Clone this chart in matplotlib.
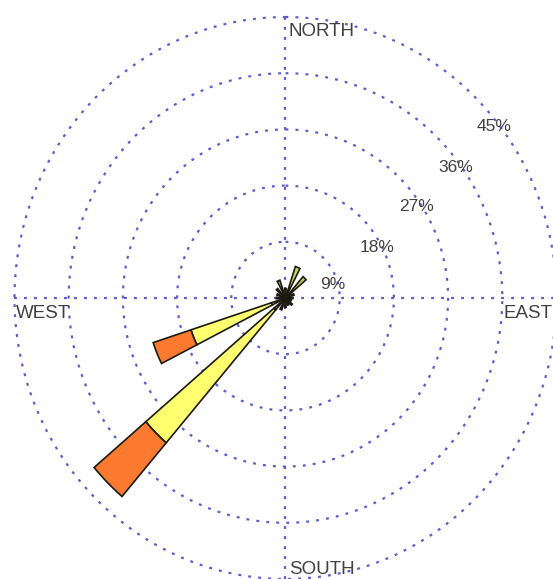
import numpy as np
import matplotlib.pyplot as plt

# Wind rose: 16 compass sectors, frequency (%) per speed class
directions = ['N', 'NNE', 'NE', 'ENE', 'E', 'ESE', 'SE', 'SSE',
              'S', 'SSW', 'SW', 'WSW', 'W', 'WNW', 'NW', 'NNW']
class_low = [1.5, 5.3, 4.5, 1.5, 1.2, 1.0, 1.5, 1.2,
             1.5, 2.0, 2.5, 2.5, 1.5, 1.5, 2.0, 3.0]
class_mid = [0, 0, 0, 0, 0, 0, 0, 0,
             0, 0, 28.0, 14.0, 0, 0, 0, 0]
class_high = [0, 0, 0, 0, 0, 0, 0, 0,
              0, 0, 11.3, 6.6, 0, 0, 0, 0]

ring_values = [9, 18, 27, 36, 45]
ring_labels = ['9%', '18%', '27%', '36%', '45%']
ring_label_bearings = [75, 62, 56, 53.5, 51.6]
cardinal_labels = ['NORTH', 'EAST', 'SOUTH', 'WEST']

class_colors = ['#c9d35a', '#ffff70', '#fb7a30']
grid_color = '#5c5cd0'
text_color = '#404040'

fig = plt.figure(figsize=(5.53, 5.79), dpi=100)
fig.patch.set_facecolor('white')
ax = fig.add_axes([0.0262, 0.0, 0.9801, 0.9706], projection='polar')
ax.set_aspect('auto')
ax.set_theta_zero_location('N')
ax.set_theta_direction(-1)
ax.set_rlim(0, ring_values[-1])
ax.grid(False)
ax.set_xticks([])
ax.set_yticks([])
ax.spines['polar'].set_visible(False)
ax.patch.set_visible(False)

dash = (0, (1.3, 3.2))
glw = 1.6

# concentric frequency rings
theta_full = np.linspace(0, 2 * np.pi, 721)
for rv in ring_values:
    ax.plot(theta_full, np.full_like(theta_full, rv), color=grid_color,
            lw=glw, linestyle=dash, zorder=1, clip_on=False)

# north-south and east-west axes
rmax = ring_values[-1]
for ang in (0, 90):
    a = np.deg2rad(ang)
    ax.plot([a, a], [rmax, 0], color=grid_color, lw=glw,
            linestyle=dash, zorder=1, clip_on=False)
    ax.plot([a + np.pi, a + np.pi], [rmax, 0], color=grid_color, lw=glw,
            linestyle=dash, zorder=1, clip_on=False)

# stacked sector bars
theta = np.deg2rad(np.arange(len(directions)) * 22.5)
width = np.deg2rad(9)
bottom = np.zeros(len(directions))
for vals, col in zip([class_low, class_mid, class_high], class_colors):
    vals = np.asarray(vals, dtype=float)
    mask = vals > 0
    ax.bar(theta[mask], vals[mask], width=width, bottom=bottom[mask],
           color=col, edgecolor='#1a1a10', linewidth=1.2, zorder=3)
    bottom += vals

# ring percentage labels
for rv, lab, brg in zip(ring_values, ring_labels, ring_label_bearings):
    ax.text(np.deg2rad(brg), rv - 0.8, lab, ha='center', va='center',
            fontsize=12.5, color=text_color, family='Liberation Sans',
            zorder=4)

# compass labels
card_pos = {
    'NORTH': (0, (3, -14), 'left'),
    'EAST': (90, (-4, -15), 'right'),
    'SOUTH': (180, (4, 10), 'left'),
    'WEST': (270, (1, -15), 'left'),
}
for lab in cardinal_labels:
    ang, off, ha = card_pos[lab]
    ax.annotate(lab, xy=(np.deg2rad(ang), rmax), xycoords='data',
                xytext=off, textcoords='offset pixels', ha=ha, va='center',
                fontsize=13.5, color=text_color, family='Liberation Sans',
                annotation_clip=False, zorder=4)

fig.savefig('out.png', dpi=100, facecolor='white')
